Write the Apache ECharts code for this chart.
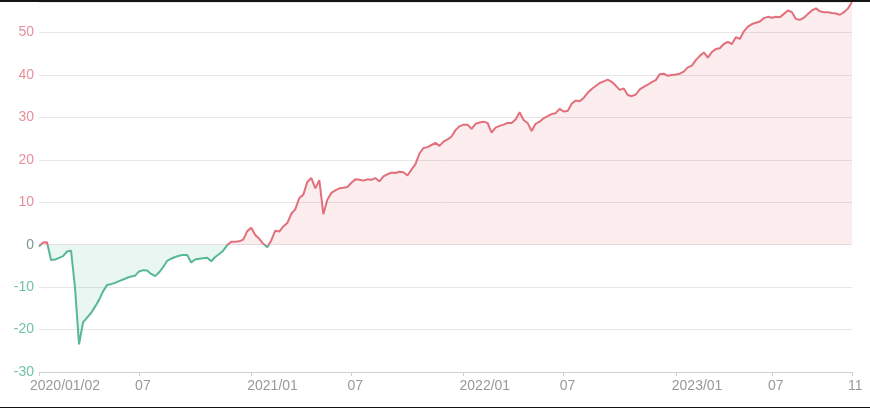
<!DOCTYPE html>
<html><head><meta charset="utf-8">
<script src="https://cdn.jsdelivr.net/npm/echarts@6/dist/echarts.min.js"></script>
<style>
html,body{margin:0;padding:0;background:#fff;overflow:hidden}
#c{position:absolute;left:0;top:0;width:870px;height:408px}
.fr{position:absolute;left:0;width:870px;background:#151515}
</style>
</head><body>
<div id="c"></div>
<div class="fr" style="top:0;height:2px"></div>
<div class="fr" style="bottom:0;height:1px"></div>
<script>
const dates = [
'2020/01/02','2020/01/09','2020/01/16','2020/01/23','2020/02/03','2020/02/10','2020/02/17','2020/02/24','2020/03/02','2020/03/09',
'2020/03/16','2020/03/23','2020/03/30','2020/04/07','2020/04/14','2020/04/21','2020/04/28','2020/05/08','2020/05/15','2020/05/22',
'2020/05/29','2020/06/05','2020/06/12','2020/06/19','2020/06/24','2020/07/01','2020/07/08','2020/07/15','2020/07/22','2020/07/29',
'2020/08/05','2020/08/12','2020/08/19','2020/08/26','2020/09/02','2020/09/09','2020/09/16','2020/09/23','2020/09/30','2020/10/09',
'2020/10/16','2020/10/23','2020/10/30','2020/11/06','2020/11/13','2020/11/20','2020/11/27','2020/12/03','2020/12/09','2020/12/15',
'2020/12/21','2020/12/25','2020/12/30','2021/01/04','2021/01/11','2021/01/18','2021/01/25','2021/02/01','2021/02/08','2021/02/19',
'2021/02/26','2021/03/05','2021/03/12','2021/03/19','2021/03/26','2021/04/02','2021/04/09','2021/04/16','2021/04/23','2021/04/30',
'2021/05/11','2021/05/18','2021/05/25','2021/06/01','2021/06/08','2021/06/15','2021/06/22','2021/06/28','2021/07/01','2021/07/08',
'2021/07/15','2021/07/22','2021/07/29','2021/08/05','2021/08/12','2021/08/19','2021/08/26','2021/09/02','2021/09/09','2021/09/16',
'2021/09/24','2021/09/30','2021/10/12','2021/10/19','2021/10/26','2021/11/02','2021/11/09','2021/11/16','2021/11/23','2021/11/30',
'2021/12/07','2021/12/13','2021/12/17','2021/12/21','2021/12/24','2021/12/29','2022/01/04','2022/01/11','2022/01/18','2022/01/25',
'2022/02/08','2022/02/15','2022/02/22','2022/03/01','2022/03/08','2022/03/15','2022/03/22','2022/03/29','2022/04/07','2022/04/14',
'2022/04/21','2022/04/28','2022/05/09','2022/05/16','2022/05/23','2022/05/30','2022/06/06','2022/06/13','2022/06/17','2022/06/22',
'2022/06/27','2022/07/01','2022/07/08','2022/07/15','2022/07/22','2022/07/29','2022/08/05','2022/08/12','2022/08/19','2022/08/26',
'2022/09/02','2022/09/09','2022/09/16','2022/09/23','2022/09/30','2022/10/14','2022/10/21','2022/10/28','2022/11/04','2022/11/11',
'2022/11/18','2022/11/25','2022/12/02','2022/12/09','2022/12/14','2022/12/19','2022/12/22','2022/12/27','2022/12/30','2023/01/03',
'2023/01/10','2023/01/17','2023/01/30','2023/02/06','2023/02/13','2023/02/20','2023/02/27','2023/03/06','2023/03/13','2023/03/20',
'2023/03/27','2023/04/03','2023/04/11','2023/04/18','2023/04/25','2023/05/05','2023/05/12','2023/05/19','2023/05/26','2023/06/02',
'2023/06/09','2023/06/16','2023/06/26','2023/07/03','2023/07/10','2023/07/17','2023/07/24','2023/07/31','2023/08/07','2023/08/14',
'2023/08/21','2023/08/28','2023/09/04','2023/09/11','2023/09/18','2023/09/25','2023/10/09','2023/10/16','2023/10/23','2023/10/30',
'2023/11/03','2023/11/08','2023/11/13','2023/11/17'
];
const values = [
-0.4,0.5,0.6,-3.6,-3.5,-3.1,-2.7,-1.6,-1.4,-10.2,
-23.5,-18.3,-17.2,-16.1,-14.6,-13.0,-11.0,-9.5,-9.3,-9.0,
-8.6,-8.2,-7.8,-7.5,-7.3,-6.3,-6.0,-6.1,-6.9,-7.4,
-6.5,-5.3,-3.8,-3.3,-2.9,-2.6,-2.4,-2.4,-4.2,-3.5,
-3.3,-3.2,-3.1,-3.9,-2.9,-2.2,-1.4,-0.1,0.7,0.7,
0.8,1.2,3.2,4.0,2.3,1.4,0.2,-0.6,1.0,3.3,
3.1,4.3,5.1,7.3,8.4,11.0,11.8,14.8,15.7,13.3,
15.2,7.2,10.6,12.2,12.8,13.3,13.4,13.6,14.6,15.4,
15.3,15.1,15.4,15.3,15.7,14.9,16.1,16.6,17.0,16.9,
17.2,17.1,16.3,17.7,19.0,21.5,22.8,23.0,23.5,24.0,
23.3,24.3,24.8,25.5,27.0,27.9,28.3,28.3,27.3,28.5,
28.8,29.0,28.7,26.4,27.6,28.0,28.3,28.7,28.7,29.5,
31.2,29.4,28.7,26.8,28.5,29.0,29.8,30.3,30.8,31.0,
32.0,31.4,31.5,33.2,34.0,33.8,34.6,35.8,36.7,37.4,
38.1,38.5,38.9,38.4,37.5,36.5,36.8,35.3,35.0,35.4,
36.6,37.2,37.7,38.3,38.8,40.2,40.3,39.8,40.0,40.1,
40.3,40.8,41.8,42.2,43.5,44.5,45.3,44.1,45.4,46.1,
46.3,47.3,47.8,47.3,48.9,48.5,50.3,51.4,52.0,52.3,
52.6,53.4,53.7,53.5,53.7,53.6,54.4,55.2,54.8,53.2,
53.0,53.5,54.4,55.2,55.7,55.0,54.8,54.8,54.6,54.5,
54.2,54.8,55.7,57.2
];
const yMin = -30;
const yStep = 10;

const lastIdx = dates.length - 1;
const month = i => dates[i].slice(5, 7);
const isTick = i => i === 0 || i === lastIdx ||
  (month(i) !== month(i - 1) && (month(i) === '01' || month(i) === '07'));

const chart = echarts.init(document.getElementById('c'));
chart.setOption({
  animation: false,
  grid: { left: 39, right: 18, top: 2, bottom: 36, containLabel: false },
  visualMap: {
    show: false, dimension: 1, seriesIndex: 0,
    pieces: [
      { gt: 0, lte: 1000, color: '#e2707c' },
      { gt: -1000, lte: 0, color: '#58b892' }
    ]
  },
  xAxis: {
    type: 'category', data: dates, boundaryGap: false,
    axisLine: { onZero: false, lineStyle: { color: '#cfcfcf', width: 1 } },
    axisTick: { show: true, interval: (i) => isTick(i), length: 4, lineStyle: { color: '#cfcfcf' } },
    axisLabel: {
      interval: (i) => isTick(i),
      formatter: (v, i) => i === 0 ? '{f|' + v + '}' : (v.slice(5, 7) === '01' ? v.slice(0, 7) : v.slice(5, 7)),
      color: '#999', fontSize: 14, fontFamily: 'Liberation Sans, Arial, sans-serif',
      align: 'left', margin: 7, padding: [0, 0, 0, -4],
      rich: { f: { color: '#999', fontSize: 14, fontFamily: 'Liberation Sans, Arial, sans-serif', padding: [0, 0, 0, -5] } }
    },
    splitLine: { show: false }
  },
  yAxis: {
    type: 'value', min: yMin, max: 'dataMax', interval: yStep,
    axisLine: { show: false }, axisTick: { show: false },
    axisLabel: {
      showMaxLabel: false, margin: 5, fontSize: 14,
      fontFamily: 'Liberation Sans, Arial, sans-serif',
      color: (v) => (+v > 0 ? '#e5909a' : (+v < 0 ? '#6fc2a6' : '#7f9690'))
    },
    splitLine: { lineStyle: { color: '#e6e6e6', width: 1 } }
  },
  series: [{
    type: 'line', data: values, symbol: 'none', smooth: false,
    lineStyle: { width: 2 },
    areaStyle: { opacity: 0.13 }
  }]
});
</script>
</body></html>
